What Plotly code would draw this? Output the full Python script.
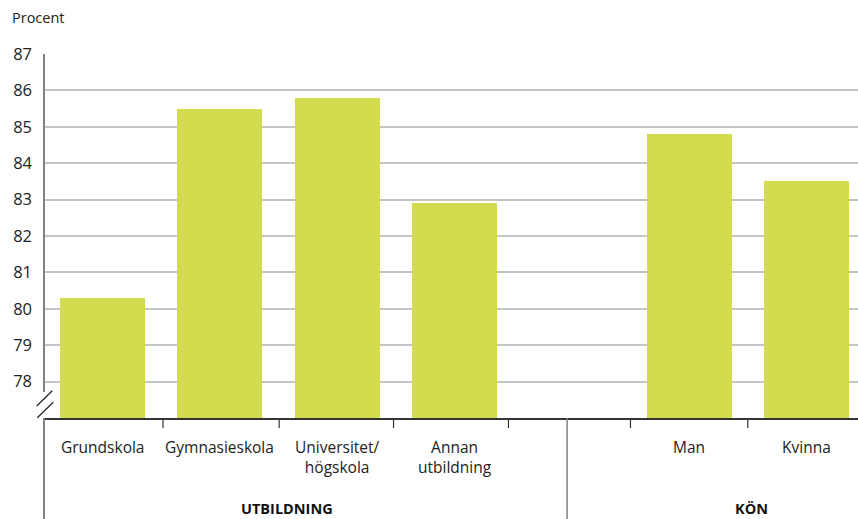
import plotly.graph_objects as go

# Andel (procent) per utbildningsnivå och kön
categories = ["Grundskola", "Gymnasieskola", "Universitet/<br>högskola", "Annan<br>utbildning", "Man", "Kvinna"]
positions = [0, 1, 2, 3, 5, 6]          # slot 4 is the gap between the two groups
values = [80.3, 85.5, 85.8, 82.9, 84.8, 83.5]
groups = ["UTBILDNING", "KÖN"]
group_centers = [1.57, 5.53]
y_ticks = [78, 79, 80, 81, 82, 83, 84, 85, 86, 87]

BAR = "#d3db4e"
FONT = "Open Sans"
W, H = 858, 519
L, R, T, B = 44, 0, 54, 101
PW, PH = W - L - R, H - T - B


def px_x(p):
    return (p - L) / PW


def px_y(p):
    return (H - B - p) / PH


fig = go.Figure(go.Bar(
    x=positions, y=values, width=0.724, marker=dict(color=BAR, line=dict(width=0)),
    hoverinfo="skip",
))

shapes = []
# y axis line with a break near the bottom
shapes.append(dict(type="line", xref="paper", yref="paper", x0=0, x1=0,
                   y0=px_y(392), y1=1, line=dict(color="#808080", width=2)))
shapes.append(dict(type="line", xref="paper", yref="paper", x0=0, x1=0,
                   y0=0, y1=px_y(H), line=dict(color="#808080", width=2)))
# break marks
for (xa, ya, xb, yb) in [(36.7, 406, 52.3, 390.7), (37.3, 417.7, 53.3, 402.3)]:
    shapes.append(dict(type="line", xref="paper", yref="paper",
                       x0=px_x(xa), y0=px_y(ya), x1=px_x(xb), y1=px_y(yb),
                       line=dict(color="#222222", width=1.2)))
# short ticks between categories
for t in [0.515, 1.505, 2.48, 3.46, 4.5, 5.5]:
    shapes.append(dict(type="line", xref="x", yref="paper", x0=t, x1=t,
                       y0=0, y1=px_y(428), line=dict(color="#333333", width=1.2)))
# separator between the groups
shapes.append(dict(type="line", xref="x", yref="paper", x0=3.96, x1=3.96,
                   y0=0, y1=px_y(H), line=dict(color="#808080", width=1.5)))

annotations = []
for p, c in zip(positions, categories):
    annotations.append(dict(x=p, y=px_y(434), xref="x", yref="paper", text=c,
                            showarrow=False, xanchor="center", yanchor="top",
                            font=dict(family=FONT, size=15.5, color="#222222")))
for g, gx in zip(groups, group_centers):
    annotations.append(dict(x=gx, y=px_y(508), xref="x", yref="paper",
                            text="<b>" + g + "</b>", showarrow=False,
                            xanchor="center", yanchor="middle",
                            font=dict(family=FONT, size=14.5, color="#111111")))
annotations.append(dict(x=px_x(10), y=px_y(18), xref="paper", yref="paper",
                        text="Procent", showarrow=False, xanchor="left",
                        yanchor="middle",
                        font=dict(family=FONT, size=14.5, color="#222222")))

fig.update_layout(
    width=W, height=H,
    margin=dict(l=L, r=R, t=T, b=B, pad=0),
    paper_bgcolor="white", plot_bgcolor="white",
    showlegend=False,
    bargap=0,
    shapes=shapes,
    annotations=annotations,
    xaxis=dict(range=[-0.5, 6.44], showticklabels=False, ticks="",
               showgrid=False, zeroline=False,
               showline=True, linecolor="#333333", linewidth=2,
               fixedrange=True),
    yaxis=dict(range=[77, 87], tickvals=y_ticks, ticks="",
               ticklabelstandoff=11,
               tickfont=dict(family=FONT, size=16.5, color="#222222"),
               showgrid=True, gridcolor="#c4c4c4", gridwidth=1.5,
               zeroline=False, showline=False, fixedrange=True),
)

fig.write_html("out.html", config={"displayModeBar": False})
